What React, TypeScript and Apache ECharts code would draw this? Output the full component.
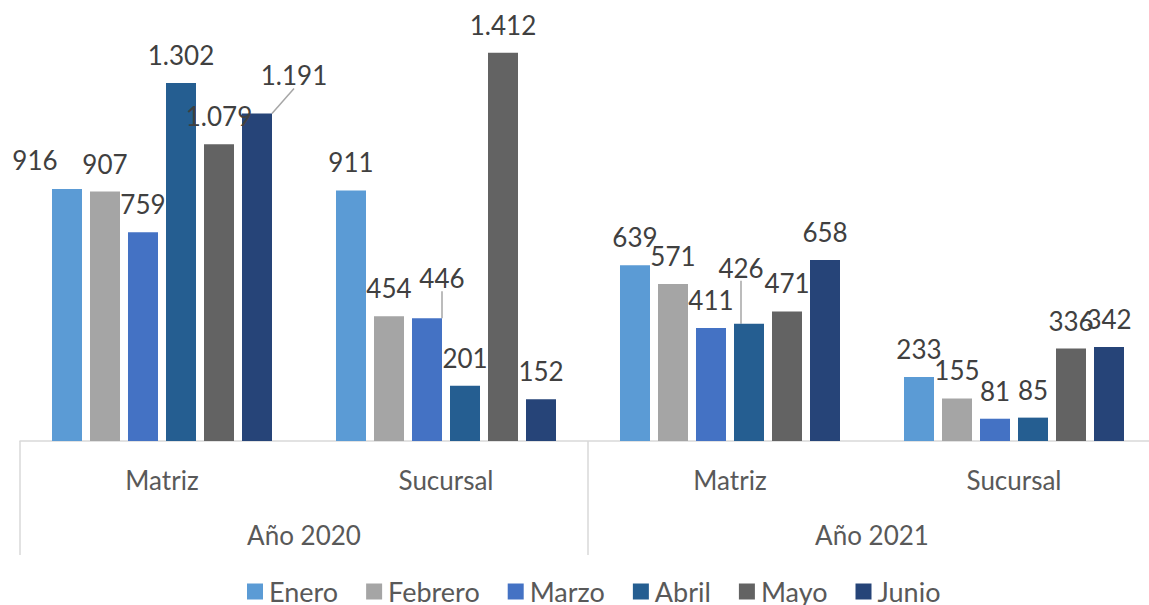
import React, { useEffect, useRef } from "react";
import * as echarts from "echarts";

const groups = ["Matriz", "Sucursal", "Matriz", "Sucursal"];
const years = ["Año 2020", "Año 2021"];
const months = ["Enero", "Febrero", "Marzo", "Abril", "Mayo", "Junio"];

const enero = [916, 911, 639, 233];
const febrero = [907, 454, 571, 155];
const marzo = [759, 446, 411, 81];
const abril = [1302, 201, 426, 85];
const mayo = [1079, 1412, 471, 336];
const junio = [1191, 152, 658, 342];

const seriesValues = [enero, febrero, marzo, abril, mayo, junio];
const colors = ["#5B9BD5", "#A5A5A5", "#4472C4", "#255E91", "#636363", "#264478"];

// label displacements (Excel moved labels), keyed "series-dataIndex"
const labelMoves: Record<string, [number, number]> = {
  "0-0": [-32, -1],
  "5-0": [37, -10],
  "2-1": [15, -12],
  "3-2": [-8, -28],
};
const leaderLines = ["5-0", "2-1", "3-2"];

const FONT = "Lato";
const fmt = (v: number) => String(v).replace(/\B(?=(\d{3})+(?!\d))/g, ".");

export default function App() {
  const ref = useRef<HTMLDivElement>(null);
  useEffect(() => {
    if (!ref.current) return;
    const chart = echarts.init(ref.current, undefined, { renderer: "svg" });
    chart.setOption({
      animation: false,
      textStyle: { fontFamily: FONT },
      grid: { left: 20, width: 1136, top: 1, height: 440 },
      legend: {
        data: months,
        left: 242,
        top: 573,
        icon: "rect",
        itemWidth: 16,
        itemHeight: 16,
        itemGap: 28,
        textStyle: { fontFamily: FONT, fontSize: 27, color: "#595959", padding: [0, 0, 0, 1] },
      },
      xAxis: [
        {
          type: "category",
          data: groups,
          position: "bottom",
          axisLine: { show: true, lineStyle: { color: "#d9d9d9", width: 1.5 } },
          axisTick: { show: false },
          axisLabel: { margin: 26, fontSize: 26, color: "#595959", fontFamily: FONT },
        },
        {
          type: "category",
          data: years,
          position: "bottom",
          axisLine: { show: false },
          axisTick: { show: true, length: 114, lineStyle: { color: "#d9d9d9", width: 1.5 } },
          axisLabel: { margin: 81, fontSize: 26, color: "#595959", fontFamily: FONT },
        },
      ],
      yAxis: {
        type: "value",
        min: 0,
        max: 1600,
        show: false,
        splitLine: { show: false },
      },
      series: months.map((m, si) => ({
        name: m,
        type: "bar",
        xAxisIndex: 0,
        barWidth: 30,
        barGap: "26.67%",
        itemStyle: { color: colors[si] },
        data: seriesValues[si].map((v, di) => {
          const key = `${si}-${di}`;
          const item: any = { value: v };
          if (leaderLines.includes(key)) {
            item.labelLine = { show: true, lineStyle: { color: "#a6a6a6", width: 1.5 } };
          }
          return item;
        }),
        label: {
          show: true,
          position: "top",
          distance: 15,
          fontSize: 26,
          fontFamily: FONT,
          color: "#404040",
          formatter: (p: any) => fmt(p.value),
        },
        labelLine: { show: false, lineStyle: { color: "#a6a6a6", width: 1.5 } },
        labelLayout: (params: any) => {
          const mv = labelMoves[`${params.seriesIndex}-${params.dataIndex}`];
          if (!mv) return {};
          return { dx: mv[0], dy: mv[1] };
        },
      })),
    });
    return () => chart.dispose();
  }, []);
  return (
    <div style={{ position: "fixed", left: 0, top: 0, width: 1149, height: 605, overflow: "hidden", background: "#fff" }}>
      <div ref={ref} style={{ width: 1160, height: 605 }} />
    </div>
  );
}
